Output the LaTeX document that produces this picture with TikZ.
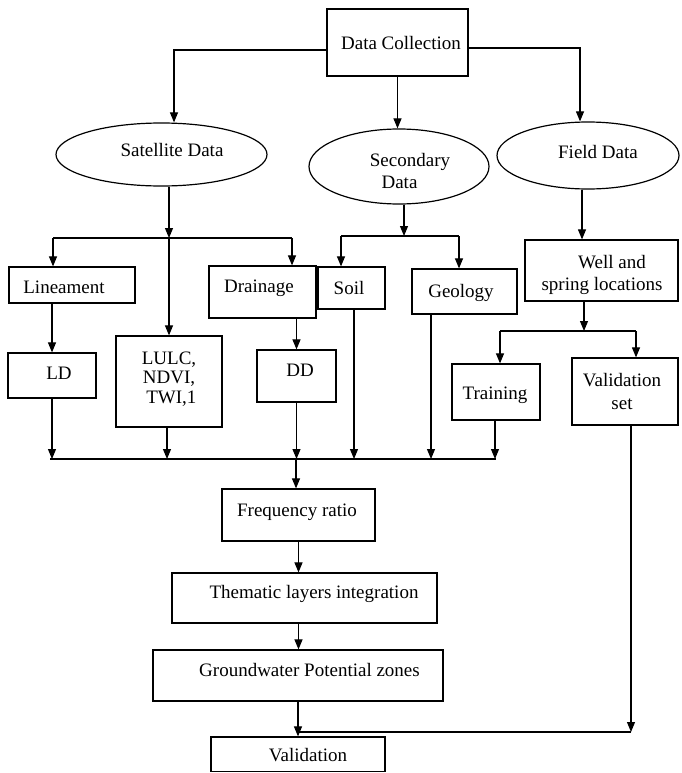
\documentclass[tikz,border=0pt]{standalone}
\usepackage{fontspec}
\setmainfont{Liberation Serif}
\usetikzlibrary{shapes.geometric,arrows.meta}
\begin{document}
\begin{tikzpicture}[x=1pt,y=-1pt,
  box/.style={draw,line width=1.2pt,rectangle,inner sep=0pt},
  ell/.style={draw,line width=1.2pt,ellipse,inner sep=0pt},
  txt/.style={inner sep=0pt,align=center,font=\fontsize{19pt}{22pt}\selectfont,text height=12.6pt,text depth=0pt},
  arr/.style={line width=1.1pt,-{Triangle[length=10pt,width=8pt]}},
  bar/.style={line width=2.2pt}]
\useasboundingbox (0,0) rectangle (681,773);
% shapes
\node[box,minimum width=141pt,minimum height=67pt] (dc) at (397.5,42.5) {};
\node[ell,minimum width=211pt,minimum height=63pt] (sat) at (161.5,154.5) {};
\node[ell,minimum width=180pt,minimum height=75pt] (sec) at (399,166.5) {};
\node[ell,minimum width=182pt,minimum height=67pt] (field) at (588,155.5) {};
\node[box,minimum width=126pt,minimum height=36pt] (lin) at (72,285) {};
\node[box,minimum width=106pt,minimum height=91pt] (lulc) at (169,381.5) {};
\node[box,minimum width=107pt,minimum height=52pt] (dr) at (262.5,292) {};
\node[box,minimum width=67pt,minimum height=42pt] (soil) at (351.5,288) {};
\node[box,minimum width=105pt,minimum height=45pt] (geo) at (464.5,291.5) {};
\node[box,minimum width=153pt,minimum height=61pt] (well) at (601.5,270.5) {};
\node[box,minimum width=88pt,minimum height=45pt] (LD) at (52,375.5) {};
\node[box,minimum width=79pt,minimum height=52pt] (DD) at (296.5,376) {};
\node[box,minimum width=88pt,minimum height=56pt] (tr) at (496,392) {};
\node[box,minimum width=106pt,minimum height=67pt] (vs) at (625,391.5) {};
\node[box,minimum width=153pt,minimum height=52pt] (fr) at (298.5,515) {};
\node[box,minimum width=265pt,minimum height=50pt] (th) at (304.5,598) {};
\node[box,minimum width=290pt,minimum height=51pt] (gw) at (298,675.5) {};
\node[box,minimum width=174pt,minimum height=34.5pt] (val) at (298,754.25) {};
% texts (multi-line texts are placed by their last line)
\node[txt] (dct) at (401,43.5) {Data Collection};
\node[txt] (satt) at (172,150) {Satellite Data};
\node[txt] (sect) at (399.5,182) {\hspace*{21pt}Secondary\\Data};
\node[txt] (fieldt) at (598,152) {Field Data};
\node[txt] (lint) at (64,287) {Lineament};
\node[txt,font=\fontsize{19pt}{19.5pt}\selectfont] (lulct) at (169,397) {LULC,\\NDVI,\\\ TWI,1};
\node[txt] (drt) at (259,286) {Drainage};
\node[txt] (soilt) at (349,288) {Soil};
\node[txt] (geot) at (461,291) {Geology};
\node[txt] (wellt) at (602,284) {\hspace*{20pt}Well and\\spring locations};
\node[txt] (LDt) at (59,373) {LD};
\node[txt] (DDt) at (300,370) {DD};
\node[txt] (trt) at (495,393) {Training};
\node[txt,font=\fontsize{19pt}{23pt}\selectfont] (vst) at (622,403) {Validation\\set};
\node[txt] (frt) at (297,510) {Frequency ratio};
\node[txt] (tht) at (314,592) {Thematic layers integration};
\node[txt] (gwt) at (309.5,670) {Groundwater Potential zones};
\node[txt] (valt) at (308,755) {Validation};
% junction coordinates
\coordinate (sbL) at (53,238);
\coordinate (sbM) at (169,238);
\coordinate (sbR) at (292,238);
\coordinate (secL) at (341,236);
\coordinate (secM) at (404,236);
\coordinate (secR) at (459,236);
\coordinate (wbL) at (500,331);
\coordinate (wbM) at (584,331);
\coordinate (wbR) at (636,331);
\coordinate (cL) at (50,459);
\coordinate (cM) at (296,459);
\coordinate (cR) at (496,459);
\coordinate (vj) at (631,732);
% top connectors
\draw[arr] ([yshift=-7.5pt]dc.west) -| ([xshift=12.5pt]sat.north);
\draw[arr] ([yshift=-5.5pt]dc.east) -| ([xshift=-8pt]field.north);
\draw[arr] (dc.south) -- (dc.south |- sec.north);
% satellite branch
\draw[arr] (sat.south -| sbM) -- (sbM);
\draw[bar] (sbL) -- (sbR);
\draw[arr] (sbL) -- (sbL |- lin.north);
\draw[arr] (sbM) -- (sbM |- lulc.north);
\draw[arr] (sbR) -- (sbR |- dr.north);
% secondary branch
\draw[arr] (sec.south -| secM) -- (secM);
\draw[bar] (secL) -- (secR);
\draw[arr] (secL) -- (secL |- soil.north);
\draw[arr] (secR) -- (secR |- geo.north);
% field branch
\draw[arr] ([xshift=-6pt]field.south) -- ([xshift=-6pt]field.south |- well.north);
\draw[arr] (well.south -| wbM) -- (wbM);
\draw[bar] (wbL) -- (wbR);
\draw[arr] (wbL) -- (wbL |- tr.north);
\draw[arr] (wbR) -- (wbR |- vs.north);
% second level
\draw[arr] (lin.south -| LD.north) -- (LD.north);
\draw[arr] (dr.south -| DD.north) -- (DD.north);
% collector
\draw[bar] (cL) -- (cR);
\draw[arr] (LD.south) -- (LD.south |- cL);
\draw[arr] ([xshift=-2pt]lulc.south) -- ([xshift=-2pt]lulc.south |- cL);
\draw[arr] (DD.south) -- (DD.south |- cL);
\draw[arr] ([xshift=2.5pt]soil.south) -- ([xshift=2.5pt]soil.south |- cL);
\draw[arr] ([xshift=-33.5pt]geo.south) -- ([xshift=-33.5pt]geo.south |- cL);
\draw[arr] ([xshift=-1pt]tr.south) -- ([xshift=-1pt]tr.south |- cL);
\draw[arr] (cM) -- (cM |- fr.north);
% lower chain
\draw[arr] (fr.south) -- (fr.south |- th.north);
\draw[arr] (fr.south |- th.south) -- (fr.south |- gw.north);
\draw[arr] (gw.south) -- (val.north);
\draw[arr] (vs.south -| vj) -- (vj);
\draw[line width=1.1pt] (vj) -- (val.north |- vj);
\end{tikzpicture}
\end{document}
